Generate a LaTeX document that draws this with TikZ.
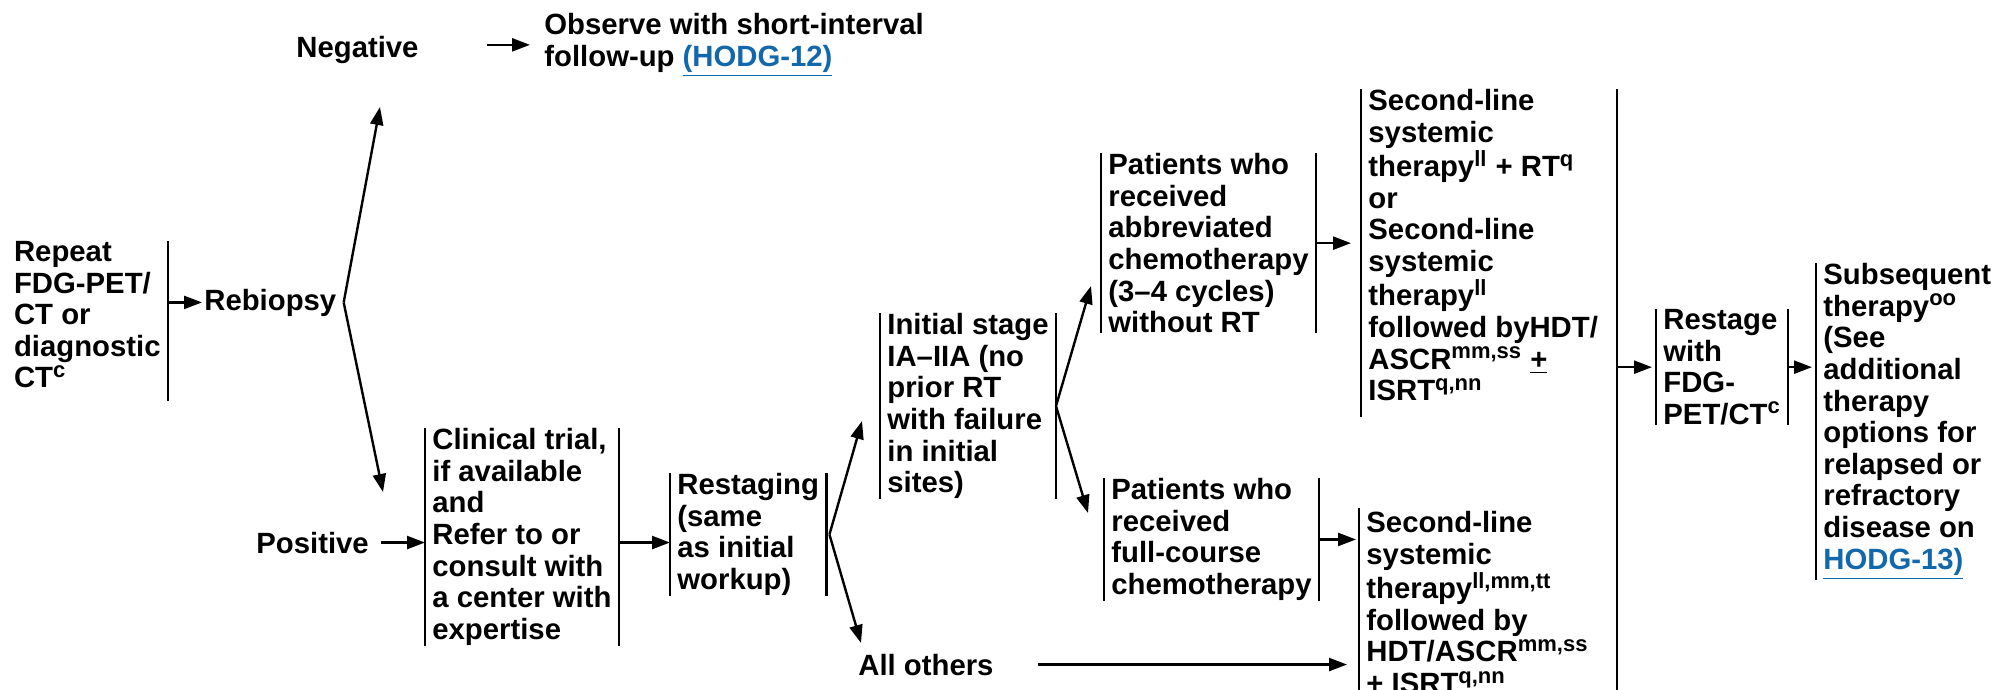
\documentclass[tikz,border=0pt]{standalone}
\usepackage{fontspec}
\setmainfont{Liberation Sans}
\usetikzlibrary{arrows.meta}
\definecolor{linkblue}{HTML}{1268AC}
\newcommand{\hodglink}[1]{\textcolor{linkblue}{\underline{#1}}}
\newcommand{\fn}[1]{\textsuperscript{\fontsize{11pt}{11pt}\selectfont #1}}
\tikzset{
        every node/.style={font=\fontsize{14.65pt}{15.8pt}\selectfont\bfseries},
        lbl/.style={inner xsep=3.5pt, inner ysep=0pt},
        box/.style={lbl, align=left, anchor=north west},
        bar/.style={line width=1.2pt},
        conn/.style={line width=1.2pt, -{Triangle[length=9pt,width=6.5pt]}}
          }
\begin{document}
\begin{tikzpicture}[x=0.5pt, y=-0.5pt]
        \useasboundingbox (0,0) rectangle (1996,690);
        \node[lbl, align=left, anchor=north east] (rep) at (168,241) {Repeat\\FDG-PET/\\CT or\\diagnostic\\CT\fn{c}};
        \node[lbl, inner xsep=1pt, anchor=base west] (reb) at (202,310) {Rebiopsy};
        \coordinate (rebfork) at ([xshift=2.5pt]reb.east);
        \node[lbl, anchor=base west] (neg) at (289,58) {Negative};
        \node[box] (obs) at (537,13) {Observe with short-interval\\follow-up \hodglink{(HODG-12)}};
        \node[lbl, anchor=base west] (pos) at (249,553) {Positive};
        \node[box] (clin) at (425,428) {Clinical trial,\\if available\\and\\Refer to or\\consult with\\a center with\\expertise};
        \node[box] (rstg) at (670,473) {Restaging\\(same\\as initial\\workup)};
        \coordinate (rstgfork) at ([xshift=1.5pt]rstg.east);
        \node[box] (init) at (880,313) {Initial stage\\IA–IIA (no\\prior RT\\with failure\\in initial\\sites)};
        \node[lbl, anchor=base west] (oth) at (851,675) {All others};
        \node[box] (pabb) at (1101,153) {Patients who\\received\\abbreviated\\chemotherapy\\(3–4 cycles)\\without RT};
        \node[box] (pfull) at (1104,478) {Patients who\\received\\full-course\\chemotherapy};
        \node[box] (sl1) at (1361,89) {Second-line\\systemic\\therapy\fn{ll} + RT\fn{q}\\or\\Second-line\\systemic\\therapy\fn{ll}\\followed byHDT/\\ASCR\fn{mm,ss} \underline{+}\\ISRT\fn{q,nn}};
        \node[box] (sl2) at (1359,511) {Second-line\\systemic\\therapy\fn{ll,mm,tt}\\followed by\\HDT/ASCR\fn{mm,ss}\\\underline{+} ISRT\fn{q,nn}};
        \node[box] (rsg) at (1656,309) {Restage\\with\\FDG-\\PET/CT\fn{c}};
        \node[box] (sub) at (1816,263) {Subsequent\\therapy\fn{oo}\\(See\\additional\\therapy\\options for\\relapsed or\\refractory\\disease on\\\hodglink{HODG-13)}};
        \coordinate (negtip) at (380,107);
        \coordinate (postip) at (383,492);
        \coordinate (inittip) at (862,421);
        \coordinate (othtip) at (861,643);
        \coordinate (pabbtip) at (1091,286);
        \coordinate (pfulltip) at (1088,513);
        \coordinate (bigtop) at (1617,89);
        \coordinate (bigbot) at (1617,690);
        \foreach \n in {clin,rstg,init,pabb,pfull,rsg}
          \draw[bar] (\n.north west) -- (\n.south west) (\n.north east) -- (\n.south east);
        \draw[bar] (rep.north east) -- ([yshift=-6pt]rep.south east);
        \draw[bar] (sl1.north west) -- ([yshift=-8pt]sl1.south west);
        \draw[bar] ([yshift=1.5pt]sl2.north west) -- (sl2.west |- bigbot);
        \draw[bar] (sub.north west) -- (sub.south west);
        \draw[bar] (bigtop) -- (bigbot);
        \draw[conn] (rep.east |- reb.west) -- (reb.west);
        \draw[conn] (rebfork) -- (negtip);
        \draw[conn] (rebfork) -- (postip);
        \draw[conn, shorten >=3.5pt] ([xshift=30.5pt]neg.east |- obs.west) -- (obs.west);
        \draw[conn] ([xshift=2.5pt]pos.east) -- (pos.east -| clin.west);
        \draw[conn] (clin.east |- pos.east) -- (rstg.west |- pos.east);
        \draw[conn] (rstgfork) -- (inittip);
        \draw[conn] (rstgfork) -- (othtip);
        \draw[conn] (init.east) -- (pabbtip);
        \draw[conn] (init.east) -- (pfulltip);
        \draw[conn, shorten >=5pt] (pabb.east) -- (pabb.east -| sl1.west);
        \draw[conn, shorten >=1.5pt] (pfull.east) -- (pfull.east -| sl2.west);
        \draw[conn, shorten >=6pt] ([xshift=18.5pt]oth.east) -- (oth.east -| sl2.west);
        \draw[conn, shorten >=2pt] (bigtop |- rsg.west) -- (rsg.west);
        \draw[conn, shorten >=2pt] (rsg.east) -- (rsg.east -| sub.west);
      \end{tikzpicture}
\end{document}
